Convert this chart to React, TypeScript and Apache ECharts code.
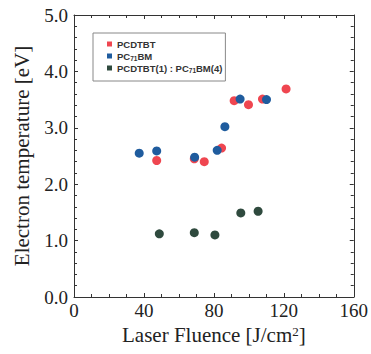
import React, { useEffect, useRef } from "react";
import * as echarts from "echarts";

const seriesNames = ["PCDTBT", "PC71BM", "PCDTBT(1) : PC71BM(4)"];
const pcdtbtData: [number, number][] = [
  [47.3, 2.42], [68.8, 2.45], [74.5, 2.40], [84.4, 2.64],
  [91.6, 3.48], [99.8, 3.41], [107.8, 3.51], [121.3, 3.69],
];
const pc71bmData: [number, number][] = [
  [37.3, 2.55], [47.3, 2.59], [69.0, 2.48], [81.9, 2.60],
  [86.3, 3.02], [95.0, 3.51], [110.1, 3.50],
];
const blendData: [number, number][] = [
  [48.8, 1.12], [68.8, 1.14], [80.6, 1.10], [95.4, 1.49], [105.3, 1.52],
];
const seriesColors = ["#ef4650", "#1f5c9e", "#2f4a3e"];
const xTicks = { min: 0, max: 160, interval: 40 };
const yTicks = { min: 0, max: 5, interval: 1 };

const serif = "'Liberation Serif', 'Times New Roman', serif";
const axisColor = "#333";

export default function App() {
  const ref = useRef<HTMLDivElement>(null);
  useEffect(() => {
    if (!ref.current) return;
    const chart = echarts.init(ref.current, null, { renderer: "svg" });
    const lineStyle = { color: axisColor, width: 1 };
    const baseX = {
      type: "value" as const,
      min: xTicks.min,
      max: xTicks.max,
      interval: xTicks.interval,
      axisLine: { show: true, onZero: false, lineStyle },
      axisTick: { show: true, inside: true, length: 4, lineStyle },
      minorTick: { show: true, splitNumber: 4, length: 3, lineStyle },
      splitLine: { show: false },
    };
    const baseY = {
      type: "value" as const,
      min: yTicks.min,
      max: yTicks.max,
      interval: yTicks.interval,
      axisLine: { show: true, onZero: false, lineStyle },
      axisTick: { show: true, inside: true, length: 4, lineStyle },
      minorTick: { show: true, splitNumber: 5, length: 3, lineStyle },
      splitLine: { show: false },
    };
    const legendFormatter = (name: string) => {
      if (name === seriesNames[1]) return "{a|PC}{s|71}{a|BM}";
      if (name === seriesNames[2]) return "{a|PCDTBT(1) : PC}{s|71}{a|BM(4)}";
      return "{a|" + name + "}";
    };
    const datasets = [pcdtbtData, pc71bmData, blendData];
    chart.setOption({
      animation: false,
      grid: { left: 74, top: 15, right: 17, bottom: 57, containLabel: false },
      xAxis: [
        {
          ...baseX,
          position: "bottom",
          name: "{n|Laser Fluence [J/cm}{sup|2}{n|]}",
          nameLocation: "middle",
          nameGap: 22,
          nameTextStyle: {
            rich: {
              n: { fontFamily: serif, fontSize: 21, color: "#222" },
              sup: { fontFamily: serif, fontSize: 13, color: "#222", verticalAlign: "top", padding: [0, 0, 8, 0] },
            },
          },
          axisLabel: { show: true, margin: 4, fontFamily: serif, fontSize: 19, color: "#222" },
        },
        { ...baseX, position: "top", axisLabel: { show: false } },
      ],
      yAxis: [
        {
          ...baseY,
          position: "left",
          name: "Electron temperature [eV]",
          nameLocation: "middle",
          nameGap: 42,
          nameTextStyle: { fontFamily: serif, fontSize: 21, color: "#222" },
          axisLabel: {
            show: true,
            margin: 6,
            fontFamily: serif,
            fontSize: 19,
            color: "#222",
            formatter: (v: number) => v.toFixed(1),
          },
        },
        { ...baseY, position: "right", axisLabel: { show: false } },
      ],
      legend: {
        data: seriesNames,
        orient: "vertical",
        left: 93,
        top: 33,
        icon: "rect",
        itemWidth: 5,
        itemHeight: 5,
        itemGap: 0,
        padding: [5, 3, 7, 14],
        borderColor: "#888",
        borderWidth: 1,
        backgroundColor: "#fff",
        formatter: legendFormatter,
        textStyle: {
          lineHeight: 12,
          rich: {
            a: { fontFamily: "'Liberation Sans', Arial, sans-serif", fontSize: 9.5, fontWeight: "bold", color: "#333", lineHeight: 12 },
            s: { fontFamily: "'Liberation Sans', Arial, sans-serif", fontSize: 6.5, fontWeight: "bold", color: "#333", lineHeight: 12, verticalAlign: "bottom", padding: [4, 0, 0, 0] },
          },
        },
      },
      series: datasets.map((d, i) => ({
        name: seriesNames[i],
        type: "scatter",
        data: d,
        symbol: "circle",
        symbolSize: 9,
        itemStyle: { color: seriesColors[i], opacity: 1 },
        emphasis: { disabled: true },
      })),
    });
    return () => chart.dispose();
  }, []);
  return (
    <div
      ref={ref}
      style={{ position: "absolute", left: 0, top: 0, width: 371, height: 354, background: "#fff" }}
    />
  );
}
